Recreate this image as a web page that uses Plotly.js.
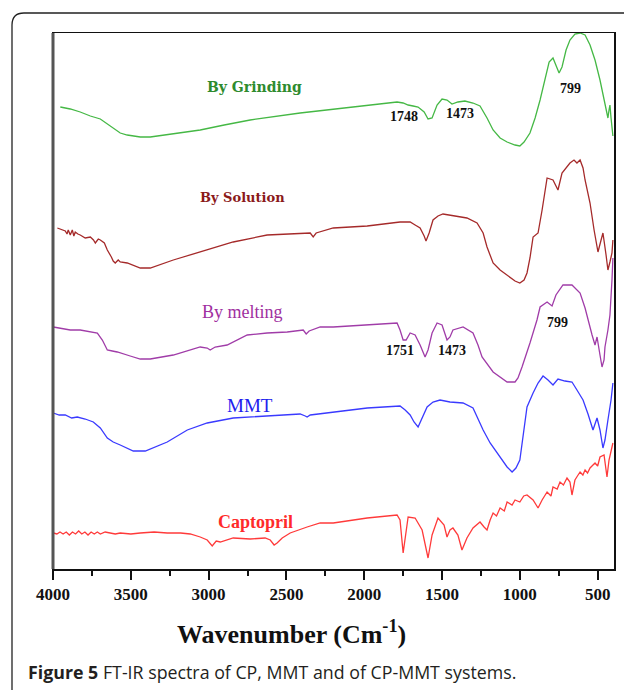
<!DOCTYPE html>
<html>
<head>
<meta charset="utf-8">
<script src="https://cdn.plot.ly/plotly-3.0.1.min.js"></script>
<style>html,body{margin:0;padding:0;background:#fff;}#chart{width:624px;height:690px;}</style>
</head>
<body>
<div id="chart"></div>
<script>
// ---- Data (wavenumber in cm^-1, stacked transmittance in arbitrary units) ----
const wnGrinding = [3953,3889,3825,3760,3696,3651,3600,3568,3523,3439,3375,3227,3054,2900,2733,2412,2090,1789,1750,1718,1686,1654,1615,1590,1564,1532,1500,1468,1436,1398,1353,1301,1256,1211,1172,1127,1082,1031,1000,973,935,902,870,838,812,787,768,748,729,703,678,646,613,581,549,517,485,459,446,434,427,421,414,408,402];
const tGrinding  = [462,460,457,453,450,445,439,436,434,432,432,435,439,444,449,456,462,467,466,464,463,462,457,450,451,464,470,469,465,467,468,466,463,451,439,431,427,424,423,427,436,451,469,491,507,511,503,496,502,519,529,535,536,534,524,509,489,469,459,451,459,464,451,436,433];

const wnSolution = [3972,3940,3921,3910,3902,3889,3876,3866,3857,3840,3825,3793,3760,3740,3728,3709,3696,3670,3651,3625,3613,3600,3581,3568,3523,3439,3375,3227,3054,2842,2624,2412,2347,2328,2309,2199,1981,1770,1705,1673,1641,1615,1603,1583,1558,1526,1494,1417,1340,1275,1236,1211,1172,1127,1082,1031,1000,973,954,935,915,883,857,825,787,755,729,678,652,633,613,594,581,549,523,498,478,466,446,434,421,408,402];
const tSolution  = [341,339,338,335,339,334,339,333,337,335,334,331,332,329,326,330,329,326,319,312,308,306,309,307,306,301,301,309,317,327,334,336,336,332,336,341,343,347,347,344,341,333,328,336,349,353,355,353,351,346,336,322,306,299,294,288,286,289,296,311,332,336,359,391,389,379,396,406,409,406,409,401,389,366,339,317,329,336,314,299,307,316,329];

const wnMelting = [3998,3953,3889,3825,3760,3715,3683,3651,3619,3587,3504,3439,3375,3227,3054,3009,2990,2958,2881,2752,2624,2495,2392,2373,2354,2283,2199,1981,1789,1770,1750,1731,1705,1673,1641,1609,1590,1564,1532,1500,1468,1449,1430,1365,1301,1269,1243,1172,1082,1031,1012,986,960,935,890,870,825,793,768,723,665,613,581,562,536,517,504,485,472,459,453,434,421,408,402];
const tMelting  = [242,241,239,239,237,236,229,219,218,217,213,210,210,214,222,221,219,222,224,234,236,237,239,235,238,242,242,244,246,239,229,229,236,234,224,212,219,236,246,244,229,232,239,242,236,224,212,197,187,187,191,202,214,226,249,262,267,263,274,284,284,276,261,249,234,224,232,214,202,209,222,239,254,289,311];

const wnMMT = [3998,3960,3921,3880,3844,3793,3741,3696,3651,3613,3568,3484,3407,3266,3137,3009,2842,2624,2412,2379,2367,2347,2199,1981,1770,1737,1705,1680,1654,1628,1596,1558,1513,1449,1365,1301,1236,1191,1127,1082,1050,1025,1000,973,954,915,883,851,819,787,755,710,665,633,594,562,530,504,485,466,453,434,414,402];
const tMMT  = [156,154,154,151,152,150,147,141,131,127,124,118,118,127,139,146,151,153,155,153,152,154,157,161,163,159,154,147,142,151,162,167,169,167,166,161,139,126,112,102,97,101,109,139,162,176,186,193,189,184,190,188,187,179,169,155,139,151,139,121,129,149,169,186];

const wnCaptopril = [3998,3975,3955,3935,3915,3895,3875,3855,3835,3815,3795,3775,3755,3735,3715,3696,3665,3632,3600,3568,3500,3439,3350,3266,3180,3118,3054,3009,2977,2951,2925,2842,2733,2637,2604,2579,2560,2527,2476,2367,2283,2199,1981,1789,1770,1750,1731,1718,1673,1628,1590,1564,1526,1487,1468,1449,1430,1398,1372,1340,1301,1256,1230,1211,1191,1172,1150,1127,1100,1082,1050,1031,1000,975,954,915,883,857,825,800,787,760,742,720,697,678,665,646,630,613,595,581,565,549,530,517,500,485,459,440,427,414,402];
const tCaptopril  = [36,35,37,35,37,34,37,35,38,35,37,34,37,35,37,35,37,36,35,36,35,36,37,36,36,35,32,29,23,28,27,31,30,31,29,24,26,31,36,42,46,46,51,54,49,16,39,52,51,39,11,34,51,44,32,39,41,34,19,31,41,47,42,39,49,56,53,61,58,67,64,69,67,73,74,69,61,69,77,73,82,80,87,84,91,87,74,89,93,97,94,99,96,101,104,106,103,112,114,92,109,117,126];

const seriesNames  = ["By Grinding","By Solution","By melting","MMT","Captopril"];
const lineColors   = ["#45b845","#a52a2a","#a03ca8","#3a3aff","#ff3a3a"];
const labelColors  = ["#2e8b2e","#8b1a1a","#a030a0","#2020ee","#ff2a2a"];
// label anchor positions (wavenumber, value)
const labelWn  = [2707,2784,2784,2733,2701];
const labelVal = [482,372,257,164,47];

// peak assignments
const peakText = ["1748","1473","799","1751","1473","799"];
const peakWn   = [1744,1384,677,1769,1435,761];
const peakVal  = [453,456,481,219,219,247];

const xTickVals = [4000,3500,3000,2500,2000,1500,1000,500];
const xTickText = ["4000","3500","3000","2500","2000","1500","1000","500"];

// ---- Build ----
const W = 624, H = 690;
const M = {l:53, r:10, t:33, b:121};
const PW = W - M.l - M.r, PH = H - M.t - M.b;
const px = x => (x - M.l) / PW;          // pixel -> paper x
const py = y => (H - M.b - y) / PH;      // pixel -> paper y

const xs = [wnGrinding, wnSolution, wnMelting, wnMMT, wnCaptopril];
const ys = [tGrinding, tSolution, tMelting, tMMT, tCaptopril];
const traces = xs.map((x, i) => ({
  x: x, y: ys[i], type: 'scatter', mode: 'lines', name: seriesNames[i],
  line: {color: lineColors[i], width: 1.3}, hoverinfo: 'skip'
}));

const serif = '"Liberation Serif", "Times New Roman", serif';
const annotations = [];
const labelFonts = [
  {family: '"DejaVu Serif", serif', size: 14, weight: 'bold'},
  {family: '"DejaVu Serif", serif', size: 13, weight: 'bold'},
  {family: serif, size: 18},
  {family: serif, size: 19},
  {family: serif, size: 18, weight: 'bold'}
];
seriesNames.forEach((n, i) => {
  annotations.push({x: labelWn[i], y: labelVal[i], xref: 'x', yref: 'y', text: n, showarrow: false,
    xanchor: 'center', yanchor: 'middle',
    font: Object.assign({color: labelColors[i]}, labelFonts[i])});
});
peakText.forEach((t, i) => {
  annotations.push({x: peakWn[i], y: peakVal[i], xref: 'x', yref: 'y', text: t, showarrow: false,
    xanchor: 'center', yanchor: 'middle',
    font: {family: serif, size: 14, weight: 'bold', color: '#111'}});
});
// axis title
annotations.push({x: px(291), y: py(632), xref: 'paper', yref: 'paper', showarrow: false,
  xanchor: 'center', yanchor: 'middle', text: 'Wavenumber (Cm<sup>-1</sup>)',
  font: {family: serif, size: 26, weight: 'bold', color: '#111'}});
// caption
annotations.push({x: px(26), y: py(672), xref: 'paper', yref: 'paper', showarrow: false,
  xanchor: 'left', yanchor: 'middle',
  text: '<b>Figure 5</b> FT-IR spectra of CP, MMT and of CP-MMT systems.',
  font: {family: '"Open Sans", sans-serif', size: 17.8, color: '#231f20'}});

const shapes = [
  // outer rounded panel border
  {type: 'path', xref: 'paper', yref: 'paper', layer: 'above',
   path: `M ${px(12)},${py(692)} L ${px(12)},${py(25)} Q ${px(12)},${py(13)} ${px(24)},${py(13)} L ${px(626)},${py(13)}`,
   line: {color: '#222', width: 1.3}},
  // thick grey left frame line
  {type: 'line', xref: 'paper', yref: 'paper', x0: 0, x1: 0, y0: 0, y1: 1,
   line: {color: '#555', width: 3}, layer: 'above'}
];

const layout = {
  width: W, height: H, margin: M,
  paper_bgcolor: '#fff', plot_bgcolor: '#fff', showlegend: false,
  xaxis: {range: [4000, 395], autorange: false, showgrid: false, zeroline: false,
    showline: true, mirror: true, linecolor: '#111', linewidth: 1.5,
    ticks: 'outside', ticklen: 9, tickwidth: 2, tickcolor: '#111',
    tickvals: xTickVals, ticktext: xTickText,
    minor: {tickvals: [3750,3250,2750,2250,1750,1250,750], ticks: 'outside', ticklen: 5, tickwidth: 2, tickcolor: '#111'},
    tickfont: {family: serif, size: 17, weight: 'bold', color: '#111'}},
  yaxis: {range: [0, 536], autorange: false, showgrid: false, zeroline: false,
    showline: true, mirror: true, linecolor: '#111', linewidth: 1.5,
    ticks: '', showticklabels: false},
  annotations: annotations, shapes: shapes
};

Plotly.newPlot('chart', traces, layout, {staticPlot: true, displayModeBar: false});
</script>
</body>
</html>
